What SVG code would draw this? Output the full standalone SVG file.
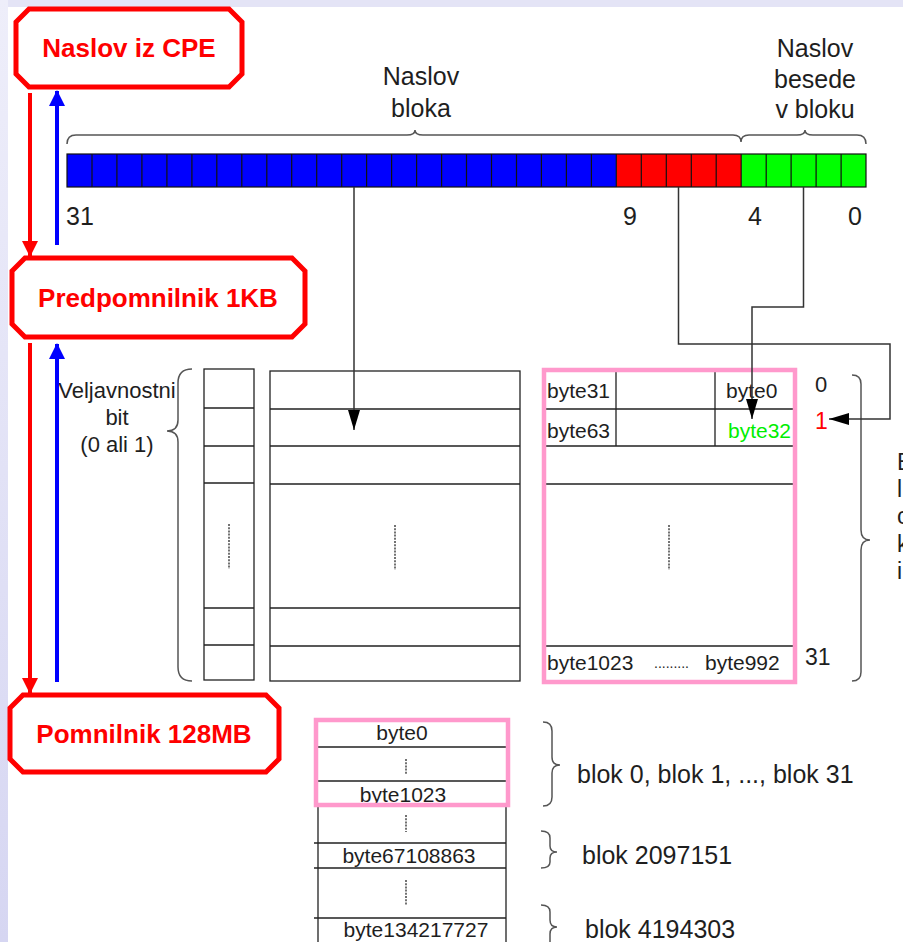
<svg xmlns="http://www.w3.org/2000/svg" width="903" height="942" viewBox="0 0 903 942">
<defs>
<linearGradient id="side" x1="0" y1="0" x2="0" y2="1">
<stop offset="0" stop-color="#eeeefa"/>
<stop offset="1" stop-color="#d6d6f2"/>
</linearGradient>
<marker id="ah" viewBox="0 0 20 12" refX="20" refY="6" markerWidth="20" markerHeight="12" markerUnits="userSpaceOnUse" orient="auto">
<path d="M0,0 L20,6 L0,12 Z" fill="#000"/>
</marker>
<marker id="ahr" viewBox="0 0 16 16" refX="15" refY="8" markerWidth="16" markerHeight="16" markerUnits="userSpaceOnUse" orient="auto">
<path d="M0,0 L16,8 L0,16 Z" fill="#ff0000"/>
</marker>
<marker id="ahb" viewBox="0 0 16 16" refX="15" refY="8" markerWidth="16" markerHeight="16" markerUnits="userSpaceOnUse" orient="auto">
<path d="M0,0 L16,8 L0,16 Z" fill="#0000ff"/>
</marker>
</defs>
<style>
.t{font-family:"Liberation Sans",Arial,sans-serif;fill:#1e1e1e}
.big{font-size:25px}
.mid{font-size:21px}
.lab{font-family:"Liberation Sans",Arial,sans-serif;font-weight:bold;font-size:26px;fill:#ff0000}
.box{fill:#fff;stroke:#ff0000;stroke-width:5;stroke-linejoin:miter}
.grid{fill:none;stroke:#222;stroke-width:1.3}
.pink{fill:none;stroke:#ff99cc;stroke-width:4.5}
.dot{stroke:#444;stroke-width:1.5;stroke-dasharray:2 1.2}
.brace{fill:none;stroke:#555;stroke-width:1.5}
.conn{fill:none;stroke:#333;stroke-width:1.5}
.cells{fill:none;stroke:#111;stroke-width:1.2}
</style>
<rect width="903" height="942" fill="#fff"/>
<rect x="0" y="0" width="903" height="7" fill="#e4e4f6"/>
<rect x="0" y="0" width="8" height="942" fill="url(#side)"/>

<g id="naslov-cpe">
<polygon class="box" points="29,9 229,9 242,22 242,74 229,87 29,87 16,74 16,22"/>
<text class="lab" x="129" y="57" text-anchor="middle">Naslov iz CPE</text>
</g>
<g id="predpomnilnik">
<polygon class="box" points="25,258 292,258 305,271 305,324 292,337 25,337 12,324 12,271"/>
<text class="lab" x="158" y="307" text-anchor="middle">Predpomnilnik 1KB</text>
</g>
<g id="pomnilnik">
<polygon class="box" points="23,695 266,695 279,708 279,759 266,772 23,772 10,759 10,708"/>
<text class="lab" x="144" y="743" text-anchor="middle">Pomnilnik 128MB</text>
</g>

<g id="address-labels">
<text class="t big" x="421" y="85" text-anchor="middle">Naslov</text>
<text class="t big" x="421" y="117" text-anchor="middle">bloka</text>
<text class="t big" x="815" y="57" text-anchor="middle">Naslov</text>
<text class="t big" x="815" y="88" text-anchor="middle">besede</text>
<text class="t big" x="815" y="118" text-anchor="middle">v bloku</text>
<path class="brace" d="M67,144 Q67,135 76,135 L407,135 Q415,135 415,130 Q415,135 423,135 L733,135 Q741,135 741,142 Q741,135 749,135 L797,135 Q805,135 805,130 Q805,135 813,135 L857,135 Q866,135 866,144"/>
</g>

<g id="address-bar">
<rect x="67" y="154" width="549.3" height="33" fill="#0000ff"/>
<rect x="616.3" y="154" width="124.9" height="33" fill="#ff0000"/>
<rect x="741.2" y="154" width="124.8" height="33" fill="#00ff00"/>
<rect class="cells" x="67" y="154" width="799" height="33"/>
<path class="cells" d="M92,154V187M116.9,154V187M141.9,154V187M166.9,154V187M191.9,154V187M216.8,154V187M241.8,154V187M266.8,154V187M291.7,154V187M316.7,154V187M341.7,154V187M366.6,154V187M391.6,154V187M416.6,154V187M441.6,154V187M466.5,154V187M491.5,154V187M516.5,154V187M541.4,154V187M566.4,154V187M591.4,154V187M616.3,154V187M641.3,154V187M666.3,154V187M691.3,154V187M716.2,154V187M741.2,154V187M766.2,154V187M791.1,154V187M816.1,154V187M841.1,154V187"/>
<text class="t big" x="80" y="225" text-anchor="middle">31</text>
<text class="t big" x="630" y="225" text-anchor="middle">9</text>
<text class="t big" x="755" y="225" text-anchor="middle">4</text>
<text class="t big" x="855" y="225" text-anchor="middle">0</text>
</g>

<g id="valid-bits">
<rect class="grid" x="204" y="369" width="50" height="311"/>
<path class="grid" d="M204,408H254M204,446H254M204,483H254M204,608H254M204,645H254"/>
<line class="dot" x1="229" y1="524" x2="229" y2="569"/>
<text class="t" x="117" y="398" text-anchor="middle" style="font-size:22px">Veljavnostni</text>
<text class="t" x="117" y="425" text-anchor="middle" style="font-size:22px">bit</text>
<text class="t" x="117" y="452" text-anchor="middle" style="font-size:22px">(0 ali 1)</text>
<path class="brace" d="M192,369 Q178,369 178,383 L178,420 Q178,431 167,431 Q178,431 178,442 L178,667 Q178,681 192,681"/>
</g>

<g id="tags">
<rect class="grid" x="270" y="371" width="250" height="310"/>
<path class="grid" d="M270,409H520M270,446H520M270,484H520M270,608H520M270,646H520"/>
<line class="dot" x1="395" y1="525" x2="395" y2="570"/>
</g>

<g id="cache-data">
<path class="grid" d="M546,409H793M546,446H793M546,484H793M546,646H793M616,370V446M715,370V446"/>
<line class="dot" x1="669" y1="525" x2="669" y2="570"/>
<text class="t mid" x="547" y="398">byte31</text>
<text class="t mid" x="726" y="398">byte0</text>
<text class="t mid" x="547" y="438">byte63</text>
<text class="t mid" x="728" y="438" style="fill:#00ee00">byte32</text>
<text class="t mid" x="547" y="670">byte1023</text>
<text class="t" x="654" y="668" style="font-size:14px">.........</text>
<text class="t mid" x="705" y="670">byte992</text>
<rect class="pink" x="544" y="370" width="251" height="312"/>
<text class="t" x="815" y="392" style="font-size:22px">0</text>
<text class="t" x="815" y="429" style="font-size:23px;fill:#ff0000">1</text>
<text class="t" x="805" y="665" style="font-size:23px">31</text>
<path class="brace" d="M852,375 Q861,375 861,384 L861,530 Q861,540 870,540 Q861,540 861,550 L861,672 Q861,681 852,681"/>
<text class="t" x="897" y="470" style="font-size:23px">B</text>
<text class="t" x="897" y="497" style="font-size:23px">l</text>
<text class="t" x="897" y="524" style="font-size:23px">c</text>
<text class="t" x="897" y="552" style="font-size:23px">k</text>
<text class="t" x="897" y="579" style="font-size:23px">i</text>
</g>

<g id="memory">
<path class="grid" d="M318,805V942M506,805V942M318,747H506M318,781H506M314,843H506M314,868H506M314,918H506"/>
<line class="dot" x1="406" y1="759" x2="406" y2="774"/>
<line class="dot" x1="406" y1="815" x2="406" y2="832"/>
<line class="dot" x1="406" y1="880" x2="406" y2="905"/>
<text class="t mid" x="402" y="740" text-anchor="middle">byte0</text>
<text class="t mid" x="403" y="802" text-anchor="middle">byte1023</text>
<rect class="pink" x="316" y="720" width="192" height="85" fill="none"/>
<text class="t mid" x="409" y="863" text-anchor="middle">byte67108863</text>
<text class="t mid" x="416" y="937" text-anchor="middle">byte134217727</text>
<path class="brace" d="M543,722 Q552,722 552,731 L552,757 Q552,765 560,765 Q552,765 552,773 L552,797 Q552,806 543,806"/>
<path class="brace" d="M541,831 Q550,831 550,838 L550,846 Q550,852 557,852 Q550,852 550,858 L550,862 Q550,868 541,868"/>
<path class="brace" d="M541,905 Q550,905 550,912 L550,920 Q550,927 557,927 Q550,927 550,934 L550,942"/>
<text class="t big" x="577" y="783">blok 0, blok 1, ..., blok 31</text>
<text class="t big" x="582" y="864">blok 2097151</text>
<text class="t big" x="585" y="938">blok 4194303</text>
</g>

<g id="connectors">
<line x1="30" y1="93" x2="30" y2="256" stroke="#ff0000" stroke-width="4" marker-end="url(#ahr)"/>
<line x1="57" y1="245" x2="57" y2="91" stroke="#0000ff" stroke-width="4" marker-end="url(#ahb)"/>
<line x1="30" y1="343" x2="30" y2="693" stroke="#ff0000" stroke-width="4" marker-end="url(#ahr)"/>
<line x1="57" y1="682" x2="57" y2="344" stroke="#0000ff" stroke-width="4" marker-end="url(#ahb)"/>
<path class="conn" d="M354,187 V430" marker-end="url(#ah)"/>
<path class="conn" d="M803.5,187 V307 H752 V419" marker-end="url(#ah)"/>
<path class="conn" d="M678.5,187 V344 H890 V419 H829" marker-end="url(#ah)"/>
</g>
</svg>
